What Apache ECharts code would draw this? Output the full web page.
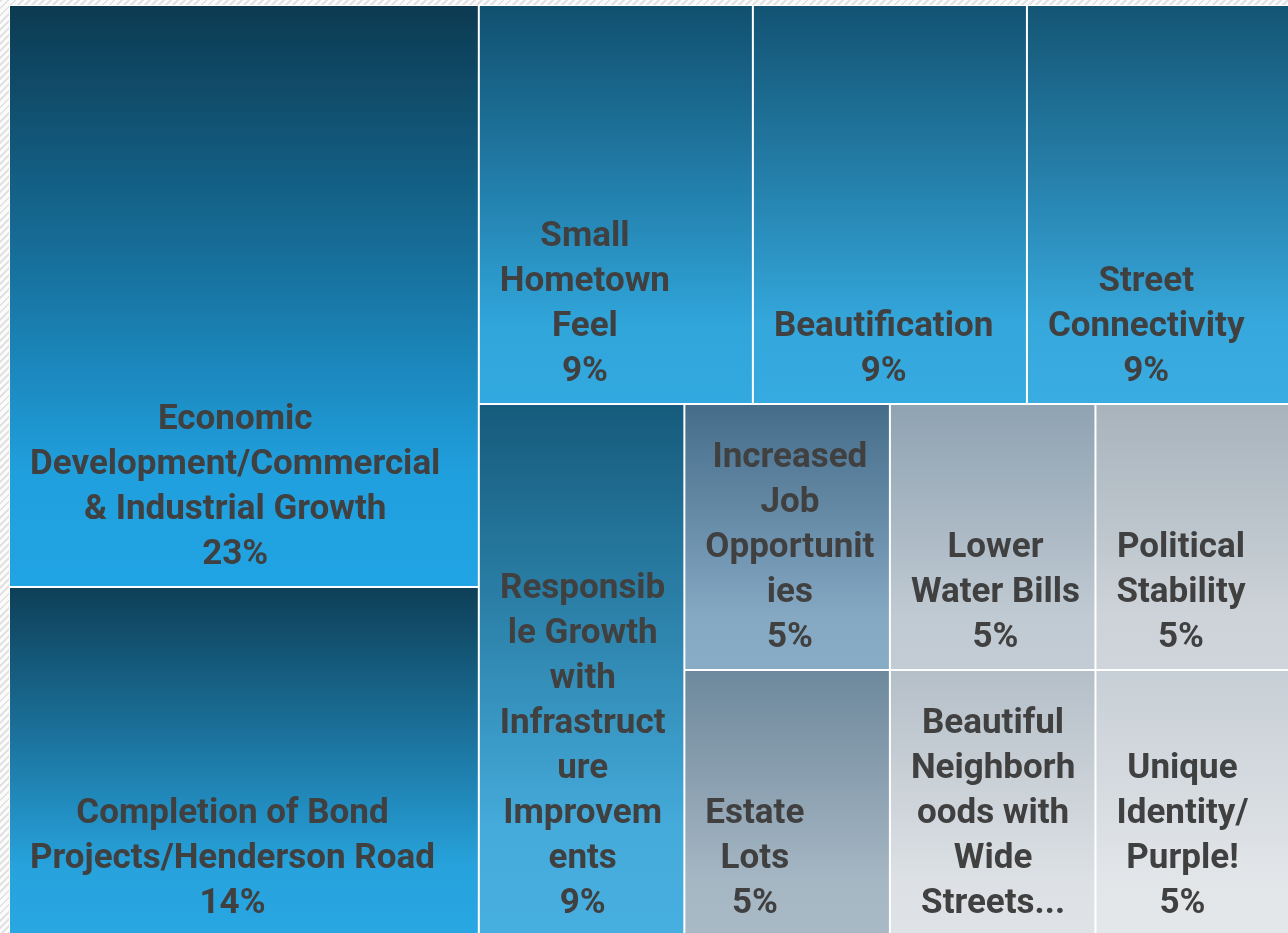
<!DOCTYPE html>
<html>
<head>
<meta charset="utf-8">
<script src="https://cdn.jsdelivr.net/npm/echarts/dist/echarts.min.js"></script>
<style>
html, body { margin: 0; padding: 0; width: 1288px; height: 933px; overflow: hidden;
  background: repeating-linear-gradient(135deg, #e2e2e2 0 2px, #fbfbfb 2px 5px); }
#chart { position: absolute; left: 0; top: 0; width: 1288px; height: 933px; }
</style>
</head>
<body>
<div id="chart"></div>
<script>
// ---- data ----
const categories = [
  'Economic Development/Commercial & Industrial Growth',
  'Completion of Bond Projects/Henderson Road',
  'Small Hometown Feel',
  'Beautification',
  'Street Connectivity',
  'Responsible Growth with Infrastructure Improvements',
  'Increased Job Opportunities',
  'Estate Lots',
  'Lower Water Bills',
  'Political Stability',
  'Beautiful Neighborhoods with Wide Streets...',
  'Unique Identity/Purple!'
];
const counts = [10, 6, 4, 4, 4, 4, 2, 2, 2, 2, 2, 2];

// label text as wrapped in the reference
const labelLines = [
  ['Economic', 'Development/Commercial', '& Industrial Growth'],
  ['Completion of Bond', 'Projects/Henderson Road'],
  ['Small', 'Hometown', 'Feel'],
  ['Beautification'],
  ['Street', 'Connectivity'],
  ['Responsib', 'le Growth', 'with', 'Infrastruct', 'ure', 'Improvem', 'ents'],
  ['Increased', 'Job', 'Opportunit', 'ies'],
  ['Estate', 'Lots'],
  ['Lower', 'Water Bills'],
  ['Political', 'Stability'],
  ['Beautiful', 'Neighborh', 'oods with', 'Wide', 'Streets...'],
  ['Unique', 'Identity/', 'Purple!']
];
const showPercent = [true, true, true, true, true, true, true, true, true, true, false, true];

// grouping (indices into categories) that reproduces the tiling
const grouping = [[0, 1], [[2, 3, 4], [5, [6, 7, 8, 9, 10, 11]]]];

// ---- styles ----
const colorTop = ['#0c3a51', '#0e3f57', '#11506f', '#135373', '#145574', '#165b7c',
                  '#456d8a', '#6e899d', '#8fa3b2', '#a8b3bc', '#b5bfc8', '#c7cfd6'];
const colorBottom = ['#21a4e4', '#28a7e3', '#32a9e0', '#36abe1', '#39ace1', '#47afe0',
                     '#88abc6', '#a9b9c6', '#c3ccd4', '#cfd5db', '#dfe3e7', '#e4e7ea'];

const FONT_FAMILY = 'Roboto';
const FONT_SIZE = 35;
const LINE_H = 45;
const LABEL_INSET = 20;
const LABEL_RAISE = 8.5;

function hexToRgb(h) { h = h.replace('#', ''); return [0, 2, 4].map(i => parseInt(h.substr(i, 2), 16)); }
function mix(a, b, t) {
  const x = hexToRgb(a), y = hexToRgb(b);
  return 'rgb(' + x.map((v, i) => Math.round(v + (y[i] - v) * t)).join(',') + ')';
}

function render() {
  const total = counts.reduce((s, v) => s + v, 0);
  const ctx = document.createElement('canvas').getContext('2d');
  ctx.font = 'bold ' + FONT_SIZE + 'px ' + FONT_FAMILY;

  function leaf(i) {
    const pct = Math.round(counts[i] / total * 100) + '%';
    const lines = showPercent[i] ? labelLines[i].concat([pct]) : labelLines[i].slice();
    const maxW = Math.max.apply(null, lines.map(l => ctx.measureText(l).width));
    return {
      name: categories[i],
      value: counts[i],
      itemStyle: {
        borderWidth: 1,
        borderColor: '#ffffff',
        color: {
          type: 'linear', x: 0, y: 0, x2: 0, y2: 1,
          colorStops: [
            { offset: 0, color: colorTop[i] },
            { offset: 0.45, color: mix(colorTop[i], colorBottom[i], 0.52) },
            { offset: 0.8, color: mix(colorTop[i], colorBottom[i], 0.95) },
            { offset: 1, color: colorBottom[i] }
          ]
        }
      },
      label: {
        formatter: lines.join('\n'),
        offset: [LABEL_INSET + maxW / 2, -LABEL_RAISE]
      }
    };
  }
  function build(node, k) {
    if (typeof node === 'number') return leaf(node);
    return {
      name: 'group' + k,
      children: node.map((c, j) => build(c, k + '-' + j)),
      itemStyle: { borderWidth: 0, gapWidth: 0, borderColor: '#ffffff' }
    };
  }
  const data = grouping.map((g, j) => build(g, '' + j));

  const chart = echarts.init(document.getElementById('chart'), null, { renderer: 'canvas' });
  chart.setOption({
    animation: false,
    tooltip: { show: false },
    series: [{
      type: 'treemap',
      left: 9, top: 5, width: 1292, height: 931,
      squareRatio: 1,
      sort: false,
      roam: false,
      nodeClick: false,
      breadcrumb: { show: false },
      itemStyle: { borderWidth: 0, gapWidth: 0, borderColor: '#ffffff' },
      upperLabel: { show: false },
      label: {
        show: true,
        position: 'insideBottomLeft',
        distance: 0,
        padding: 0,
        align: 'center',
        verticalAlign: 'bottom',
        color: '#404040',
        fontFamily: FONT_FAMILY,
        fontWeight: 'bold',
        fontSize: FONT_SIZE,
        lineHeight: LINE_H,
        overflow: 'none',
        textBorderWidth: 0
      },
      emphasis: { disabled: true },
      data: data
    }]
  });
}

if (document.fonts && document.fonts.load) {
  document.fonts.load('bold ' + FONT_SIZE + 'px ' + FONT_FAMILY).then(render, render);
} else {
  render();
}
</script>
</body>
</html>
